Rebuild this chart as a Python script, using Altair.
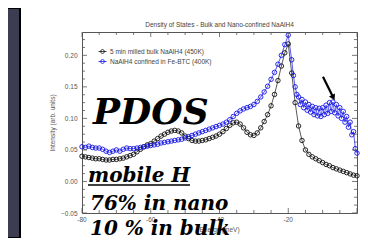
import altair as alt
import pandas as pd

# ---------------- data ----------------
bulk_energy = list(range(-80, 1))
bulk_intensity = [
    0.040, 0.039, 0.038, 0.037, 0.036, 0.036, 0.035, 0.034, 0.034, 0.035,   # -80..-71
    0.035, 0.036, 0.037, 0.039, 0.041, 0.043, 0.047, 0.051, 0.055, 0.058,   # -70..-61
    0.060, 0.064, 0.068, 0.072, 0.075, 0.078, 0.080, 0.081, 0.080, 0.077,   # -60..-51
    0.072, 0.068, 0.065, 0.064, 0.064, 0.065, 0.066, 0.068, 0.070, 0.072,   # -50..-41
    0.075, 0.079, 0.084, 0.089, 0.093, 0.094, 0.091, 0.085, 0.078, 0.074,   # -40..-31
    0.073, 0.077, 0.085, 0.095, 0.106, 0.120, 0.138, 0.160, 0.183, 0.204,   # -30..-21
    0.218, 0.172, 0.125, 0.088, 0.065, 0.050, 0.043, 0.039, 0.036, 0.033,   # -20..-11
    0.030, 0.027, 0.025, 0.022, 0.020, 0.018, 0.016, 0.014, 0.012, 0.010,   # -10..-1
    0.009,                                                                   # 0
]

nano_energy = list(range(-80, -18)) + [v / 2 for v in range(-37, 1)]
nano_intensity = [
    0.055, 0.054, 0.056, 0.054, 0.053, 0.053, 0.051, 0.048, 0.046, 0.048,   # -80..-71
    0.050, 0.048, 0.051, 0.053, 0.052, 0.052, 0.053, 0.054, 0.055, 0.056,   # -70..-61
    0.057, 0.058, 0.059, 0.061, 0.062, 0.063, 0.064, 0.065, 0.066, 0.067,   # -60..-51
    0.069, 0.071, 0.073, 0.075, 0.077, 0.079, 0.081, 0.083, 0.085, 0.087,   # -50..-41
    0.089, 0.091, 0.094, 0.098, 0.103, 0.108, 0.112, 0.115, 0.117, 0.119,   # -40..-31
    0.122, 0.127, 0.134, 0.142, 0.151, 0.162, 0.173, 0.186, 0.200, 0.217,   # -30..-21
    0.232, 0.193,                                                            # -20, -19
    0.168, 0.150, 0.138, 0.134, 0.122, 0.130, 0.117, 0.126, 0.113, 0.122,   # -18.5..-14
    0.110, 0.119, 0.106, 0.117, 0.104, 0.116, 0.103, 0.117, 0.106, 0.121,   # -13.5..-9
    0.108, 0.125, 0.111, 0.126, 0.109, 0.122, 0.104, 0.117, 0.100, 0.111,   # -8.5..-4
    0.094, 0.103, 0.086, 0.094, 0.074, 0.079, 0.052, 0.045,                 # -3.5..0
]

series_names = ["5 min milled bulk NaAlH4 (450K)", "NaAlH4 confined in Fe-BTC (400K)"]
series_colors = ["#111111", "#1414e6"]

chart_title = "Density of States - Bulk and Nano-confined NaAlH4"
x_title = "Energy (meV)"
y_title = "Intensity (arb. units)"

x_labels = [-80, -60, -40, -20]
x_label_text = ["-80", "-60", "-40", "-20"]
x_major = [-80, -60, -40, -20, 0]
x_minor = [-75, -70, -65, -55, -50, -45, -35, -30, -25, -15, -10, -5]
y_major = [-0.05, 0.0, 0.05, 0.10, 0.15, 0.20]
y_minor = [-0.0375, -0.025, -0.0125, 0.0125, 0.025, 0.0375, 0.0625, 0.075,
           0.0875, 0.1125, 0.125, 0.1375, 0.1625, 0.175, 0.1875, 0.2125, 0.225]

overlay_texts = ["PDOS", "mobile H", "76% in nano", "10 % in bulk"]

arrow_x, arrow_y = [-9.9], [0.166]
arrow_x2, arrow_y2 = [-6.9], [0.133]

# ---------------- layout / style ----------------
W, H = 275, 181
X_DOMAIN = [-80, 0]
Y_DOMAIN = [-0.05, 0.237]
FRAME = "#555555"
SANS = "Liberation Sans"
GUIDE_TEXT = "#555555"

xs = alt.Scale(domain=X_DOMAIN, nice=False, zero=False)
ys = alt.Scale(domain=Y_DOMAIN, nice=False, zero=False)
col = alt.Scale(domain=series_names, range=series_colors)

df = pd.concat([
    pd.DataFrame({"E": bulk_energy, "I": bulk_intensity, "series": series_names[0]}),
    pd.DataFrame({"E": nano_energy, "I": nano_intensity, "series": series_names[1]}),
], ignore_index=True)

y_axis = alt.Axis(values=y_major, format=".2f", labelPadding=5, ticks=False, domain=False,
                  grid=False, labelFont=SANS, labelFontSize=6.5, labelColor=GUIDE_TEXT,
                  title=y_title, titlePadding=5, titleFont=SANS, titleFontSize=6.5,
                  titleColor=GUIDE_TEXT, titleFontWeight="normal")


def X(field):
    return alt.X(f"{field}:Q", scale=xs, axis=None)


def Y(field):
    return alt.Y(f"{field}:Q", scale=ys, axis=y_axis)


LEG_SYMBOL = ("M-1,0L1,0M0.5,0L0.35,0.35L0,0.5L-0.35,0.35L-0.5,0"
              "L-0.35,-0.35L0,-0.5L0.35,-0.35Z")
legend = alt.Legend(
    title=None, orient="none", legendX=16, legendY=15, padding=0,
    symbolType=LEG_SYMBOL, symbolSize=64, symbolStrokeWidth=0.8,
    symbolFillColor="transparent",
    labelFont=SANS, labelFontSize=6.5, labelColor="#444", labelOffset=3,
    rowPadding=1)
color_enc = alt.Color("series:N", scale=col, legend=legend)

# dark slide strip at left
strip = alt.Chart(pd.DataFrame({"k": [0]})).mark_rect(
    fill="#3c3d50", stroke="#000000", strokeWidth=2
).encode(x=alt.value(-90), x2=alt.value(-62), y=alt.value(-24), y2=alt.value(H + 25))

lines = alt.Chart(df).mark_line(strokeWidth=0.7).encode(
    x=X("E"), y=Y("I"), color=color_enc, order="E:Q")

points = alt.Chart(df).mark_point(filled=False, size=20, strokeWidth=0.9, opacity=1).encode(
    x=X("E"), y=Y("I"), color=color_enc)


def tick_layer(vals, field, length, side):
    d = pd.DataFrame({field: vals})
    mk = alt.Chart(d).mark_rule(color=FRAME, strokeWidth=0.8)
    if side in ("bottom", "top"):
        enc = dict(x=X(field))
        if side == "bottom":
            enc.update(y=alt.value(H), y2=alt.value(H - length))
        else:
            enc.update(y=alt.value(0), y2=alt.value(length))
    else:
        enc = dict(y=Y(field))
        if side == "left":
            enc.update(x=alt.value(0), x2=alt.value(length))
        else:
            enc.update(x=alt.value(W), x2=alt.value(W - length))
    return mk.encode(**enc)


ticks = [
    tick_layer(x_major, "E", 5, "bottom"), tick_layer(x_minor, "E", 3, "bottom"),
    tick_layer(x_major, "E", 5, "top"), tick_layer(x_minor, "E", 3, "top"),
    tick_layer(y_major, "I", 5, "left"), tick_layer(y_minor, "I", 3, "left"),
    tick_layer(y_major, "I", 5, "right"), tick_layer(y_minor, "I", 3, "right"),
]

# x tick labels and x title as text marks (so the slide overlay can cover them)
x_lab = alt.Chart(pd.DataFrame({"E": x_labels, "t": x_label_text})).mark_text(
    font=SANS, fontSize=6.5, color=GUIDE_TEXT, align="center", baseline="top"
).encode(x=X("E"), y=alt.value(H + 4), text="t:N")
x_ttl = alt.Chart(pd.DataFrame({"t": [x_title]})).mark_text(
    font=SANS, fontSize=6.5, color=GUIDE_TEXT, align="center", baseline="middle"
).encode(x=alt.value(W / 2), y=alt.value(H + 17), text="t:N")

arrow_df = pd.DataFrame({"E": arrow_x, "I": arrow_y, "E2": arrow_x2, "I2": arrow_y2})
arrow_line = alt.Chart(arrow_df).mark_rule(color="#000", strokeWidth=2.2).encode(
    x=X("E"), y=Y("I"), x2="E2:Q", y2="I2:Q")
arrow_head = alt.Chart(arrow_df).mark_point(
    shape="triangle-down", filled=True, size=45, angle=333, color="#000", opacity=1
).encode(x=X("E2"), y=Y("I2"))

title_mark = alt.Chart(pd.DataFrame({"t": [chart_title]})).mark_text(
    font=SANS, fontSize=6.5, color="#444", align="center", baseline="middle"
).encode(x=alt.value(W / 2), y=alt.value(-7), text="t:N")


def overlay(txt, x, y, size):
    return alt.Chart(pd.DataFrame({"t": [txt]})).mark_text(
        font="DejaVu Serif", fontStyle="italic", fontWeight="bold", fontSize=size,
        align="left", baseline="alphabetic", color="#000"
    ).encode(x=alt.value(x), y=alt.value(y), text="t:N")


texts = [
    overlay(overlay_texts[0], 11, 92, 36),
    overlay(overlay_texts[1], 6, 150, 20),
    overlay(overlay_texts[2], 8, 178, 20),
    overlay(overlay_texts[3], 8, 203, 20),
]
underline = alt.Chart(pd.DataFrame({"k": [0]})).mark_rule(color="#000", strokeWidth=1.6).encode(
    x=alt.value(6), x2=alt.value(108), y=alt.value(153))

chart = alt.layer(
    strip, lines, points, *ticks, x_lab, x_ttl, arrow_line, arrow_head, title_mark,
    *texts, underline
).properties(
    width=W, height=H,
    background="white",
    padding={"left": 74, "top": 24, "right": 3, "bottom": 25},
    autosize=alt.AutoSizeParams(type="none"),
).configure_view(
    stroke=FRAME, strokeWidth=1
)

chart.save("out.html", embed_options={"renderer": "svg", "actions": False})
